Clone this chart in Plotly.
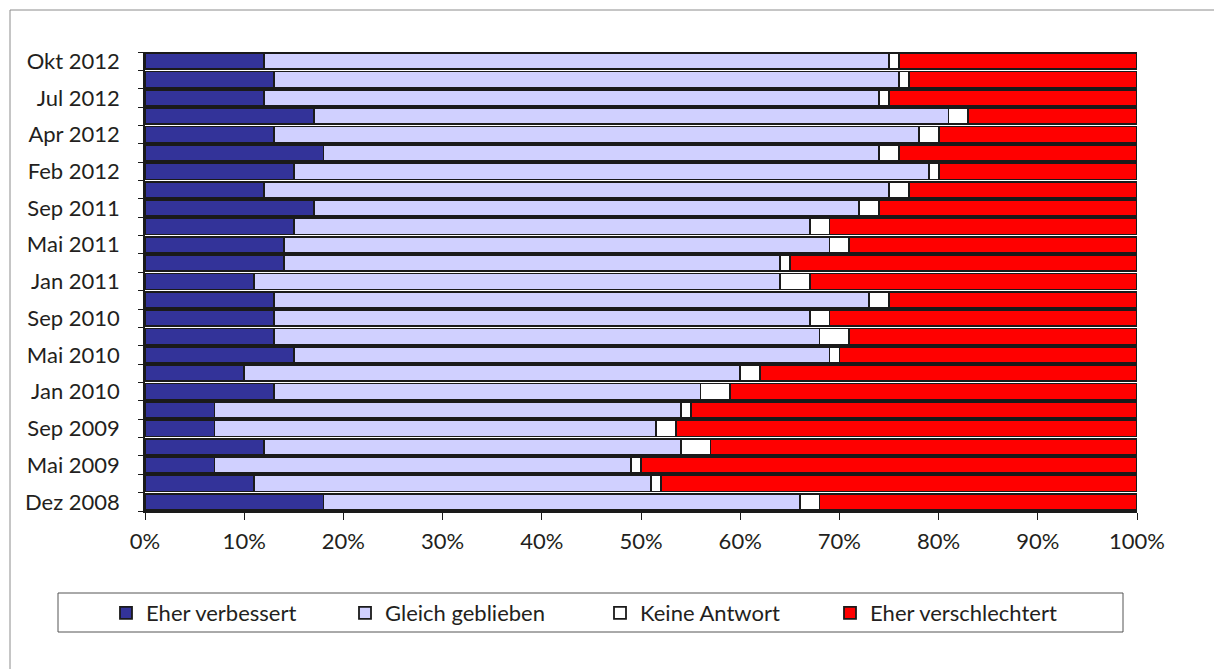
import plotly.graph_objects as go

# ---- data (top bar first) ----
period_labels = ["Okt 2012", "", "Jul 2012", "", "Apr 2012", "", "Feb 2012", "",
                 "Sep 2011", "", "Mai 2011", "", "Jan 2011", "", "Sep 2010", "",
                 "Mai 2010", "", "Jan 2010", "", "Sep 2009", "", "Mai 2009", "",
                 "Dez 2008"]
eher_verbessert = [12, 13, 12, 17, 13, 18, 15, 12, 17, 15, 14, 14, 11, 13, 13, 13,
                   15, 10, 13, 7, 7, 12, 7, 11, 18]
gleich_geblieben = [63, 63, 62, 64, 65, 56, 64, 63, 55, 52, 55, 50, 53, 60, 54, 55,
                    54, 50, 43, 47, 44.5, 42, 42, 40, 48]
keine_antwort = [1, 1, 1, 2, 2, 2, 1, 2, 2, 2, 2, 1, 3, 2, 2, 3,
                 1, 2, 3, 1, 2, 3, 1, 1, 2]
eher_verschlechtert = [24, 23, 25, 17, 20, 24, 20, 23, 26, 31, 29, 35, 33, 25, 31, 29,
                       30, 38, 41, 45, 46.5, 43, 50, 48, 32]
x_ticks = [0, 10, 20, 30, 40, 50, 60, 70, 80, 90, 100]
x_ticktext = ["0%", "10%", "20%", "30%", "40%", "50%", "60%", "70%", "80%", "90%", "100%"]

series_names = ["Eher verbessert", "Gleich geblieben", "Keine Antwort", "Eher verschlechtert"]
series_values = [eher_verbessert, gleich_geblieben, keine_antwort, eher_verschlechtert]
series_colors = ["#333399", "#D0D0FF", "#FFFFFF", "#FF0000"]
legend_ids = ["legend", "legend2", "legend3", "legend4"]

FONT = "Lato"
FS = 22
TXT = "#231f20"

positions = list(range(len(period_labels)))

fig = go.Figure()
for name, vals, col, lg in zip(series_names, series_values, series_colors, legend_ids):
    fig.add_trace(go.Bar(
        y=positions, x=vals, name=name, orientation="h",
        marker=dict(color=col, line=dict(color="#1a1a1a", width=1.8)),
        legend=lg, hoverinfo="x+name",
    ))

# plot-area pixel geometry
W, H = 1214, 669
L, R, T, B = 145, 1137, 52, 511


def px(x):
    return (x - L) / (R - L)


def py(y):
    return (B - y) / (B - T)


legend_text_px = [146, 385, 640, 870]
legend_common = dict(orientation="h", yanchor="middle", xanchor="left",
                     bgcolor="rgba(0,0,0,0)", borderwidth=0,
                     font=dict(family=FONT, size=FS, color=TXT),
                     itemwidth=30)
legends = {}
for lg, tx in zip(legend_ids, legend_text_px):
    legends[lg] = dict(legend_common, x=px(tx - 40), y=py(613))

fig.update_layout(
    width=W, height=H,
    margin=dict(l=L, r=W - R, t=T, b=H - B),
    paper_bgcolor="white", plot_bgcolor="white",
    barmode="stack", bargap=0.12,
    showlegend=True,
    font=dict(family=FONT, size=FS, color=TXT),
    xaxis=dict(
        range=[0, 100], tickmode="array", tickvals=x_ticks, ticktext=x_ticktext,
        showgrid=False, zeroline=False,
        showline=True, linecolor="#1a1a1a", linewidth=1.5,
        ticks="outside", ticklen=7, tickcolor="#1a1a1a", tickwidth=1,
        ticklabelstandoff=3,
        tickfont=dict(family=FONT, size=FS, color=TXT),
        fixedrange=True,
    ),
    yaxis=dict(
        range=[len(period_labels) - 0.5, -0.5],
        tickmode="array", tickvals=positions, ticktext=period_labels,
        showgrid=False, zeroline=False,
        showline=True, linecolor="#1a1a1a", linewidth=1.5,
        ticks="outside", ticklen=5, tickcolor="rgba(0,0,0,0)",
        minor=dict(tickmode="linear", tick0=0.5, dtick=1, ticks="outside",
                   ticklen=5, tickcolor="#1a1a1a", tickwidth=1, showgrid=False),
        ticklabelstandoff=14,
        tickfont=dict(family=FONT, size=FS, color=TXT),
        fixedrange=True,
    ),
    **legends,
    shapes=[
        # outer chart frame
        dict(type="rect", xref="paper", yref="paper",
             x0=px(10), x1=px(W + 20), y0=py(H + 20), y1=py(10),
             line=dict(color="#8c8c8c", width=1), fillcolor="rgba(0,0,0,0)", layer="below"),
        # legend box
        dict(type="rect", xref="paper", yref="paper",
             x0=px(58), x1=px(1123), y0=py(632), y1=py(593),
             line=dict(color="#555555", width=1), fillcolor="rgba(0,0,0,0)", layer="below"),
    ],
)

fig.write_html("out.html", config={"displayModeBar": False},
               post_script="document.body.style.margin='0';")
